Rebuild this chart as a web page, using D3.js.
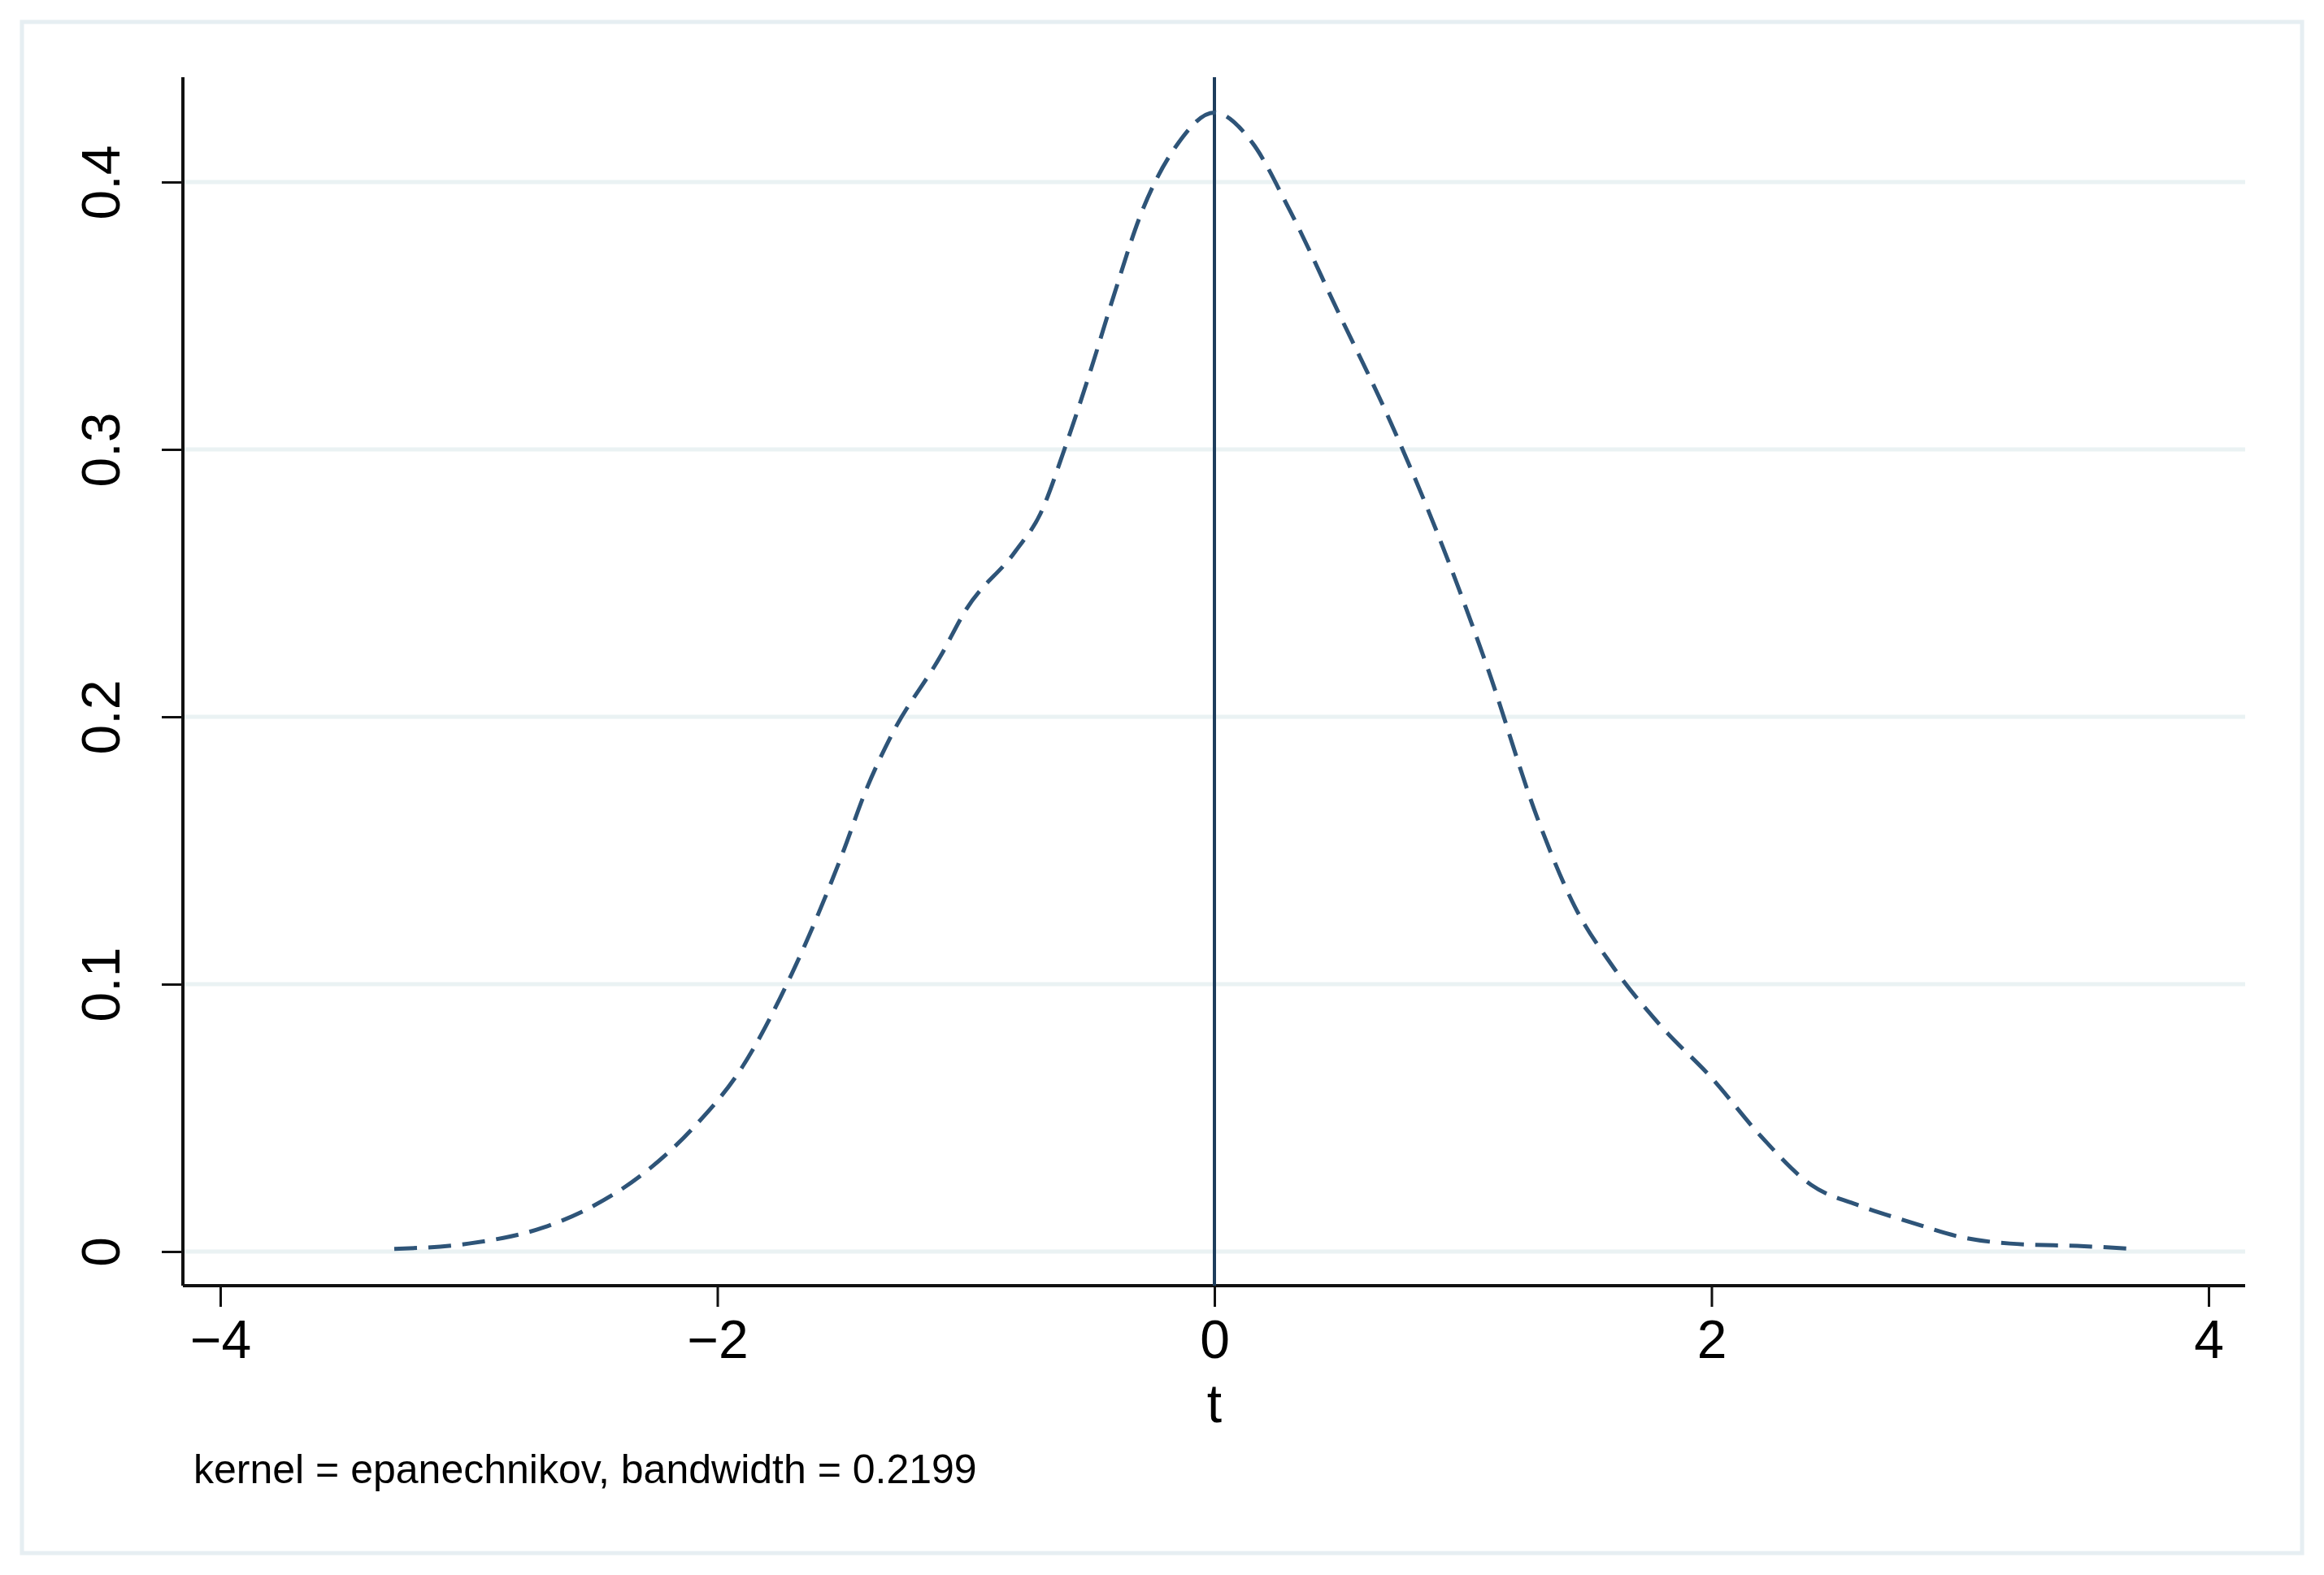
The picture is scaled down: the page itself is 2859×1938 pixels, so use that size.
<!DOCTYPE html><html><head><meta charset="utf-8">
<script src="https://cdn.jsdelivr.net/npm/d3@7"></script>
<style>body{margin:0;background:#fff}</style></head><body>
<svg id="c" width="2859" height="1938"></svg>
<script>
const tValues=[-3.3,-3.0,-2.7,-2.5,-2.3,-2.1,-1.9,-1.7,-1.5,-1.4,-1.3,-1.1,-1.0,-0.8,-0.7,-0.6,-0.5,-0.4,-0.3,-0.15,0.0,0.15,0.3,0.5,0.7,0.9,1.1,1.3,1.45,1.6,1.8,2.0,2.2,2.4,2.6,2.8,3.0,3.2,3.5,3.7];
const density=[0.001,0.003,0.009,0.017,0.029,0.046,0.069,0.104,0.148,0.173,0.193,0.223,0.240,0.262,0.276,0.301,0.329,0.359,0.387,0.414,0.426,0.415,0.39,0.351,0.312,0.268,0.218,0.162,0.129,0.107,0.084,0.065,0.043,0.025,0.017,0.011,0.0055,0.003,0.002,0.001];
const xTicks=[-4,-2,0,2,4];
const yTicks=[0,0.1,0.2,0.3,0.4];
const xLabel="t";
const note="kernel = epanechnikov, bandwidth = 0.2199";

const svg=d3.select("#c");
const F="Liberation Sans, Arial, sans-serif";
svg.append("rect").attr("x",27).attr("y",27).attr("width",2805).attr("height",1884).attr("fill","#fff").attr("stroke","#e6eef2").attr("stroke-width",5);
const x=d3.scaleLinear().domain([-4,4]).range([271,2717]);
const y=d3.scaleLinear().domain([0,0.4]).range([1540,224]);
const L=225,B=1582,R=2762,T=95;
yTicks.forEach(v=>svg.append("line").attr("x1",L).attr("x2",R).attr("y1",y(v)).attr("y2",y(v)).attr("stroke","#eaf2f3").attr("stroke-width",5));
const gx=svg.append("g").attr("transform",`translate(0,${B})`).call(d3.axisBottom(x).tickValues(xTicks).tickSize(26).tickPadding(16).tickFormat(d=>d3.format("")(d).replace("-","\u2212")));
gx.select(".domain").attr("d",`M${L},0H${R}`).attr("stroke","#111").attr("stroke-width",4);
gx.selectAll(".tick line").attr("stroke","#111").attr("stroke-width",3);
gx.selectAll("text").attr("font-family",F).attr("font-size",66).attr("fill","#000");
const gy=svg.append("g").attr("transform",`translate(${L},0)`).call(d3.axisLeft(y).tickValues(yTicks).tickSize(26).tickFormat(d=>d3.format("")(d)));
gy.select(".domain").attr("d",`M0,${T}V${B}`).attr("stroke","#111").attr("stroke-width",4);
gy.selectAll(".tick line").attr("stroke","#111").attr("stroke-width",3);
gy.selectAll("text").attr("font-family",F).attr("font-size",66).attr("fill","#000").attr("x",0).attr("dy",0).attr("text-anchor","middle").attr("transform","translate(-78,0) rotate(-90)");
svg.append("line").attr("x1",x(0)).attr("x2",x(0)).attr("y1",T).attr("y2",B).attr("stroke","#1e3d5c").attr("stroke-width",4);
svg.append("path").datum(tValues.map((t,i)=>[t,density[i]])).attr("fill","none").attr("stroke","#2e5478").attr("stroke-width",5).attr("stroke-dasharray","28,14")
 .attr("d",d3.line().x(d=>x(d[0])).y(d=>y(d[1])).curve(d3.curveMonotoneX));
svg.append("text").attr("x",x(0)).attr("y",1750).attr("text-anchor","middle").attr("font-family",F).attr("font-size",66).text(xLabel);
svg.append("text").attr("x",238).attr("y",1825).attr("font-family",F).attr("font-size",50).text(note);
</script></body></html>
